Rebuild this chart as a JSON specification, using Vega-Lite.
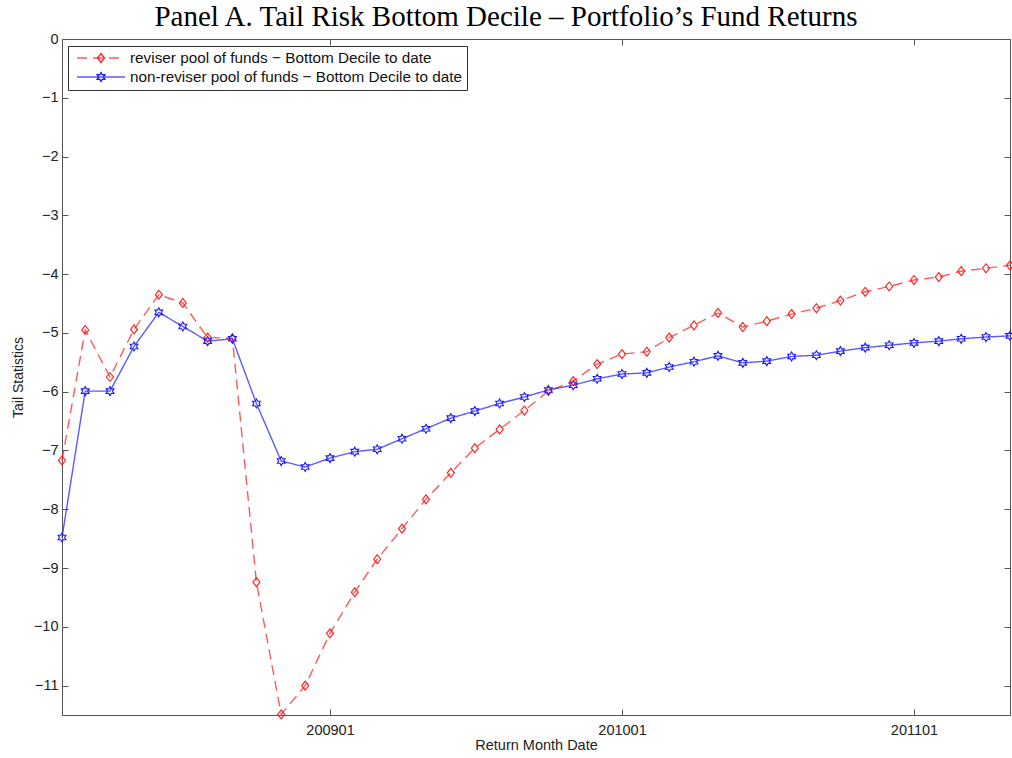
{
  "$schema": "https://vega.github.io/schema/vega-lite/v6.json",
  "width": 948,
  "height": 676,
  "autosize": {"type": "none"},
  "padding": {"left": 62, "top": 39, "right": 2, "bottom": 43},
  "background": "white",
  "title": {"text": "Panel A. Tail Risk Bottom Decile – Portfolio’s Fund Returns", "font": "Liberation Serif", "fontSize": 29, "fontWeight": "normal", "color": "#000", "anchor": "middle", "offset": 9, "baseline": "bottom", "dx": -30, "dy": 39},
  "config": {"view": {"stroke": "#555", "strokeWidth": 1}, "font": "Liberation Sans"},
  "datasets": {
    "tail": [
      {"month": "2008-02-01", "series": "reviser pool of funds − Bottom Decile to date", "value": -7.17},
      {"month": "2008-03-01", "series": "reviser pool of funds − Bottom Decile to date", "value": -4.95},
      {"month": "2008-04-01", "series": "reviser pool of funds − Bottom Decile to date", "value": -5.75},
      {"month": "2008-05-01", "series": "reviser pool of funds − Bottom Decile to date", "value": -4.94},
      {"month": "2008-06-01", "series": "reviser pool of funds − Bottom Decile to date", "value": -4.35},
      {"month": "2008-07-01", "series": "reviser pool of funds − Bottom Decile to date", "value": -4.49},
      {"month": "2008-08-01", "series": "reviser pool of funds − Bottom Decile to date", "value": -5.08},
      {"month": "2008-09-01", "series": "reviser pool of funds − Bottom Decile to date", "value": -5.09},
      {"month": "2008-10-01", "series": "reviser pool of funds − Bottom Decile to date", "value": -9.24},
      {"month": "2008-11-01", "series": "reviser pool of funds − Bottom Decile to date", "value": -11.49},
      {"month": "2008-12-01", "series": "reviser pool of funds − Bottom Decile to date", "value": -11.0},
      {"month": "2009-01-01", "series": "reviser pool of funds − Bottom Decile to date", "value": -10.11},
      {"month": "2009-02-01", "series": "reviser pool of funds − Bottom Decile to date", "value": -9.41},
      {"month": "2009-03-01", "series": "reviser pool of funds − Bottom Decile to date", "value": -8.85},
      {"month": "2009-04-01", "series": "reviser pool of funds − Bottom Decile to date", "value": -8.33},
      {"month": "2009-05-01", "series": "reviser pool of funds − Bottom Decile to date", "value": -7.83},
      {"month": "2009-06-01", "series": "reviser pool of funds − Bottom Decile to date", "value": -7.38},
      {"month": "2009-07-01", "series": "reviser pool of funds − Bottom Decile to date", "value": -6.96},
      {"month": "2009-08-01", "series": "reviser pool of funds − Bottom Decile to date", "value": -6.64},
      {"month": "2009-09-01", "series": "reviser pool of funds − Bottom Decile to date", "value": -6.32},
      {"month": "2009-10-01", "series": "reviser pool of funds − Bottom Decile to date", "value": -5.99},
      {"month": "2009-11-01", "series": "reviser pool of funds − Bottom Decile to date", "value": -5.82},
      {"month": "2009-12-01", "series": "reviser pool of funds − Bottom Decile to date", "value": -5.53},
      {"month": "2010-01-01", "series": "reviser pool of funds − Bottom Decile to date", "value": -5.36},
      {"month": "2010-02-01", "series": "reviser pool of funds − Bottom Decile to date", "value": -5.32},
      {"month": "2010-03-01", "series": "reviser pool of funds − Bottom Decile to date", "value": -5.08},
      {"month": "2010-04-01", "series": "reviser pool of funds − Bottom Decile to date", "value": -4.87},
      {"month": "2010-05-01", "series": "reviser pool of funds − Bottom Decile to date", "value": -4.66},
      {"month": "2010-06-01", "series": "reviser pool of funds − Bottom Decile to date", "value": -4.90},
      {"month": "2010-07-01", "series": "reviser pool of funds − Bottom Decile to date", "value": -4.80},
      {"month": "2010-08-01", "series": "reviser pool of funds − Bottom Decile to date", "value": -4.68},
      {"month": "2010-09-01", "series": "reviser pool of funds − Bottom Decile to date", "value": -4.58},
      {"month": "2010-10-01", "series": "reviser pool of funds − Bottom Decile to date", "value": -4.45},
      {"month": "2010-11-01", "series": "reviser pool of funds − Bottom Decile to date", "value": -4.30},
      {"month": "2010-12-01", "series": "reviser pool of funds − Bottom Decile to date", "value": -4.21},
      {"month": "2011-01-01", "series": "reviser pool of funds − Bottom Decile to date", "value": -4.10},
      {"month": "2011-02-01", "series": "reviser pool of funds − Bottom Decile to date", "value": -4.05},
      {"month": "2011-03-01", "series": "reviser pool of funds − Bottom Decile to date", "value": -3.95},
      {"month": "2011-04-01", "series": "reviser pool of funds − Bottom Decile to date", "value": -3.90},
      {"month": "2011-05-01", "series": "reviser pool of funds − Bottom Decile to date", "value": -3.85},
      {"month": "2008-02-01", "series": "non-reviser pool of funds − Bottom Decile to date", "value": -8.48},
      {"month": "2008-03-01", "series": "non-reviser pool of funds − Bottom Decile to date", "value": -5.99},
      {"month": "2008-04-01", "series": "non-reviser pool of funds − Bottom Decile to date", "value": -5.99},
      {"month": "2008-05-01", "series": "non-reviser pool of funds − Bottom Decile to date", "value": -5.23},
      {"month": "2008-06-01", "series": "non-reviser pool of funds − Bottom Decile to date", "value": -4.65},
      {"month": "2008-07-01", "series": "non-reviser pool of funds − Bottom Decile to date", "value": -4.89},
      {"month": "2008-08-01", "series": "non-reviser pool of funds − Bottom Decile to date", "value": -5.14},
      {"month": "2008-09-01", "series": "non-reviser pool of funds − Bottom Decile to date", "value": -5.10},
      {"month": "2008-10-01", "series": "non-reviser pool of funds − Bottom Decile to date", "value": -6.20},
      {"month": "2008-11-01", "series": "non-reviser pool of funds − Bottom Decile to date", "value": -7.18},
      {"month": "2008-12-01", "series": "non-reviser pool of funds − Bottom Decile to date", "value": -7.28},
      {"month": "2009-01-01", "series": "non-reviser pool of funds − Bottom Decile to date", "value": -7.13},
      {"month": "2009-02-01", "series": "non-reviser pool of funds − Bottom Decile to date", "value": -7.02},
      {"month": "2009-03-01", "series": "non-reviser pool of funds − Bottom Decile to date", "value": -6.98},
      {"month": "2009-04-01", "series": "non-reviser pool of funds − Bottom Decile to date", "value": -6.80},
      {"month": "2009-05-01", "series": "non-reviser pool of funds − Bottom Decile to date", "value": -6.63},
      {"month": "2009-06-01", "series": "non-reviser pool of funds − Bottom Decile to date", "value": -6.45},
      {"month": "2009-07-01", "series": "non-reviser pool of funds − Bottom Decile to date", "value": -6.33},
      {"month": "2009-08-01", "series": "non-reviser pool of funds − Bottom Decile to date", "value": -6.20},
      {"month": "2009-09-01", "series": "non-reviser pool of funds − Bottom Decile to date", "value": -6.09},
      {"month": "2009-10-01", "series": "non-reviser pool of funds − Bottom Decile to date", "value": -5.97},
      {"month": "2009-11-01", "series": "non-reviser pool of funds − Bottom Decile to date", "value": -5.89},
      {"month": "2009-12-01", "series": "non-reviser pool of funds − Bottom Decile to date", "value": -5.78},
      {"month": "2010-01-01", "series": "non-reviser pool of funds − Bottom Decile to date", "value": -5.70},
      {"month": "2010-02-01", "series": "non-reviser pool of funds − Bottom Decile to date", "value": -5.68},
      {"month": "2010-03-01", "series": "non-reviser pool of funds − Bottom Decile to date", "value": -5.58},
      {"month": "2010-04-01", "series": "non-reviser pool of funds − Bottom Decile to date", "value": -5.49},
      {"month": "2010-05-01", "series": "non-reviser pool of funds − Bottom Decile to date", "value": -5.39},
      {"month": "2010-06-01", "series": "non-reviser pool of funds − Bottom Decile to date", "value": -5.51},
      {"month": "2010-07-01", "series": "non-reviser pool of funds − Bottom Decile to date", "value": -5.48},
      {"month": "2010-08-01", "series": "non-reviser pool of funds − Bottom Decile to date", "value": -5.40},
      {"month": "2010-09-01", "series": "non-reviser pool of funds − Bottom Decile to date", "value": -5.38},
      {"month": "2010-10-01", "series": "non-reviser pool of funds − Bottom Decile to date", "value": -5.31},
      {"month": "2010-11-01", "series": "non-reviser pool of funds − Bottom Decile to date", "value": -5.25},
      {"month": "2010-12-01", "series": "non-reviser pool of funds − Bottom Decile to date", "value": -5.21},
      {"month": "2011-01-01", "series": "non-reviser pool of funds − Bottom Decile to date", "value": -5.17},
      {"month": "2011-02-01", "series": "non-reviser pool of funds − Bottom Decile to date", "value": -5.14},
      {"month": "2011-03-01", "series": "non-reviser pool of funds − Bottom Decile to date", "value": -5.10},
      {"month": "2011-04-01", "series": "non-reviser pool of funds − Bottom Decile to date", "value": -5.07},
      {"month": "2011-05-01", "series": "non-reviser pool of funds − Bottom Decile to date", "value": -5.05}
    ]
  },
  "data": {"name": "tail"},
  "layer": [
    {
      "mark": {"type": "line", "strokeWidth": 1.4, "opacity": 0.72},
      "encoding": {
        "x": {
          "field": "month", "type": "temporal",
          "scale": {"type": "utc", "domain": [{"year": 2008, "month": 2, "date": 1, "utc": true}, {"year": 2011, "month": 5, "date": 1, "utc": true}]},
          "axis": {"orient": "bottom", "values": [{"year": 2009, "month": 1, "date": 1, "utc": true}, {"year": 2010, "month": 1, "date": 1, "utc": true}, {"year": 2011, "month": 1, "date": 1, "utc": true}], "format": "%Y%m", "tickSize": -6, "labelPadding": 14, "grid": false, "domainColor": "#555", "tickColor": "#555", "labelFont": "Liberation Sans", "labelFontSize": 14.5, "labelColor": "#222", "title": "Return Month Date", "titleFont": "Liberation Sans", "titleFontSize": 14.5, "titleFontWeight": "normal", "titleColor": "#222", "titlePadding": 2}
        },
        "y": {
          "field": "value", "type": "quantitative",
          "scale": {"domain": [-11.5, 0], "nice": false, "zero": false},
          "axis": {"orient": "left", "values": [0, -1, -2, -3, -4, -5, -6, -7, -8, -9, -10, -11], "tickSize": -6, "labelPadding": 10, "grid": false, "domainColor": "#555", "tickColor": "#555", "labelFont": "Liberation Sans", "labelFontSize": 14.5, "labelColor": "#222", "title": "Tail Statistics", "titleFont": "Liberation Sans", "titleFontSize": 14, "titleFontWeight": "normal", "titleColor": "#222", "titlePadding": 8}
        },
        "color": {
          "field": "series", "type": "nominal",
          "scale": {"domain": ["reviser pool of funds − Bottom Decile to date", "non-reviser pool of funds − Bottom Decile to date"], "range": ["#ff1a1a", "#1a1aff"]},
          "legend": {"orient": "none", "legendX": 6, "legendY": 7, "title": null, "symbolType": "M-3.43,0L3.43,0", "symbolSize": 196, "symbolStrokeWidth": 1.3, "symbolOffset": 21, "labelOffset": 21, "labelLimit": 500, "labelFont": "Liberation Sans", "labelFontSize": 15.3, "labelColor": "#111", "padding": 4, "rowPadding": 2, "strokeColor": "#333", "fillColor": "white"}
        },
        "strokeDash": {
          "field": "series", "type": "nominal",
          "scale": {"domain": ["reviser pool of funds − Bottom Decile to date", "non-reviser pool of funds − Bottom Decile to date"], "range": [[10, 6], [1, 0]]},
          "legend": {"orient": "none", "legendX": 6, "legendY": 7, "title": null, "symbolType": "M-3.43,0L3.43,0", "symbolSize": 196, "symbolStrokeWidth": 1.3, "symbolOffset": 21, "labelOffset": 21, "labelLimit": 500, "labelFont": "Liberation Sans", "labelFontSize": 15.3, "labelColor": "#111", "padding": 4, "rowPadding": 2, "strokeColor": "#333", "fillColor": "white"}
        }
      }
    },
    {
      "mark": {"type": "point", "filled": false, "size": 196, "strokeWidth": 1.1, "opacity": 1},
      "encoding": {
        "x": {
          "field": "month", "type": "temporal",
          "scale": {"type": "utc", "domain": [{"year": 2008, "month": 2, "date": 1, "utc": true}, {"year": 2011, "month": 5, "date": 1, "utc": true}]},
          "axis": {"orient": "top", "values": [{"year": 2009, "month": 1, "date": 1, "utc": true}, {"year": 2010, "month": 1, "date": 1, "utc": true}, {"year": 2011, "month": 1, "date": 1, "utc": true}], "labels": false, "tickSize": -6, "domain": false, "grid": false, "tickColor": "#555", "title": null}
        },
        "y": {
          "field": "value", "type": "quantitative",
          "scale": {"domain": [-11.5, 0], "nice": false, "zero": false},
          "axis": {"orient": "right", "values": [0, -1, -2, -3, -4, -5, -6, -7, -8, -9, -10, -11], "labels": false, "tickSize": -6, "domain": false, "grid": false, "tickColor": "#555", "title": null}
        },
        "color": {
          "field": "series", "type": "nominal",
          "scale": {"domain": ["reviser pool of funds − Bottom Decile to date", "non-reviser pool of funds − Bottom Decile to date"], "range": ["#ff1a1a", "#1a1aff"]},
          "legend": {"orient": "none", "legendX": 6, "legendY": 7, "title": null, "symbolSize": 196, "symbolStrokeWidth": 1.3, "symbolOffset": 21, "labelOffset": 21, "labelLimit": 500, "labelFont": "Liberation Sans", "labelFontSize": 15.3, "labelColor": "transparent", "padding": 4, "rowPadding": 2, "strokeColor": "transparent", "fillColor": "transparent"}
        },
        "shape": {
          "field": "series", "type": "nominal",
          "scale": {"domain": ["reviser pool of funds − Bottom Decile to date", "non-reviser pool of funds − Bottom Decile to date"], "range": ["M0,-0.64L0.5,0L0,0.64L-0.5,0Z", "M0,-0.643L0.186,-0.321L0.557,-0.321L0.371,0L0.557,0.321L0.186,0.321L0,0.643L-0.186,0.321L-0.557,0.321L-0.371,0L-0.557,-0.321L-0.186,-0.321Z"]},
          "legend": {"orient": "none", "legendX": 6, "legendY": 7, "title": null, "symbolSize": 196, "symbolStrokeWidth": 1.3, "symbolOffset": 21, "labelOffset": 21, "labelLimit": 500, "labelFont": "Liberation Sans", "labelFontSize": 15.3, "labelColor": "transparent", "padding": 4, "rowPadding": 2, "strokeColor": "transparent", "fillColor": "transparent"}
        }
      }
    }
  ],
  "resolve": {
    "axis": {"x": "independent", "y": "independent"},
    "legend": {"color": "independent", "strokeDash": "independent", "shape": "independent"}
  }
}
